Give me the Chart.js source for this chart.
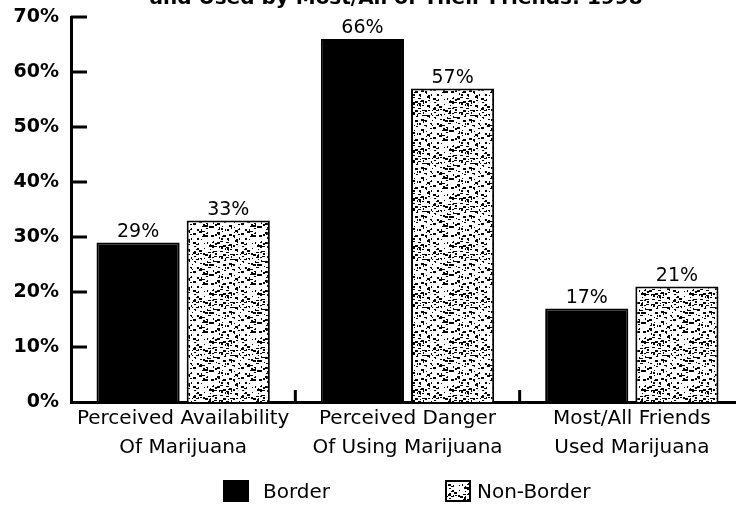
<!DOCTYPE html>
<html lang="en">
<head>
<meta charset="UTF-8">
<title>Marijuana perceptions: Border vs Non-Border</title>
<script src="https://cdn.jsdelivr.net/npm/chart.js"></script>
<style>
    html, body { margin: 0; padding: 0; background: #fff; }
    #wrap { position: relative; width: 736px; height: 507px; overflow: hidden; font-family: "DejaVu Sans", sans-serif; }
    #title { position: absolute; top: -15px; left: 96px; width: 600px; text-align: center; font-weight: bold; font-size: 20px; white-space: nowrap; }
    .item { position: absolute; top: 479px; display: flex; align-items: center; font-size: 20px; line-height: 24px; }
    .box { width: 26px; height: 22px; box-sizing: border-box; border: 2px solid #000; }
</style>
</head>
<body>
<div id="wrap">
    <canvas id="chart" width="744" height="507"></canvas>
    <div id="title">and Used by Most/All of Their Friends: 1998</div>
</div>
<script>
    // data
    const categories = [
        ['Perceived Availability', 'Of Marijuana'],
        ['Perceived Danger', 'Of Using Marijuana'],
        ['Most/All Friends', 'Used Marijuana']
    ];
    const seriesNames = ['Border', 'Non-Border'];
    const borderValues = [29, 66, 17];
    const nonBorderValues = [33, 57, 21];
    const yTickValues = [0, 10, 20, 30, 40, 50, 60, 70];

    // speckled fill for the non-border bars
    function speckle() {
        const c = document.createElement('canvas');
        c.width = 48; c.height = 48;
        const g = c.getContext('2d');
        g.fillStyle = '#fff';
        g.fillRect(0, 0, 48, 48);
        g.fillStyle = '#000';
        let s = 7;
        for (let i = 0; i < 190; i++) {
            s = (s * 73 + 41) % 2304;
            const x = s % 48, y = Math.floor(s / 48);
            g.fillRect(x, y, (i % 3) + 1, (i % 2) + 1);
        }
        return g.createPattern(c, 'repeat');
    }
    const chartCtx = document.getElementById('chart').getContext('2d');
    const fills = ['#000', speckle()];

    // legend
    const wrap = document.getElementById('wrap');
    const legendLeft = [223, 445];
    const legendGap = [14, 6];
    seriesNames.forEach((name, i) => {
        const item = document.createElement('div');
        item.className = 'item';
        item.style.left = legendLeft[i] + 'px';
        const box = document.createElement('div');
        box.className = 'box';
        box.style.background = '#000';
        box.style.marginRight = legendGap[i] + 'px';
        if (i === 1) {
            const bc = document.createElement('canvas');
            bc.width = 22; bc.height = 18;
            const bg = bc.getContext('2d');
            bg.fillStyle = fills[1];
            bg.fillRect(0, 0, 22, 18);
            bc.style.display = 'block';
            box.appendChild(bc);
        }
        const label = document.createElement('span');
        label.textContent = name;
        item.appendChild(box);
        item.appendChild(label);
        wrap.appendChild(item);
    });

    // inward tick marks and category dividers
    const axisMarks = {
        id: 'axisMarks',
        afterDraw(chart) {
            const g = chart.ctx, a = chart.chartArea;
            const y = chart.scales.y, x = chart.scales.x;
            g.save();
            g.strokeStyle = '#000';
            g.lineWidth = 3;
            yTickValues.forEach(v => {
                if (v === 0) return;
                const py = y.getPixelForValue(v);
                g.beginPath(); g.moveTo(a.left, py); g.lineTo(a.left + 16, py); g.stroke();
            });
            for (let i = 1; i < categories.length; i++) {
                const px = (x.getPixelForTick(i - 1) + x.getPixelForTick(i)) / 2;
                g.beginPath(); g.moveTo(px, a.bottom); g.lineTo(px, a.bottom - 12); g.stroke();
            }
            g.restore();
        }
    };

    // value labels on top of bars
    const barLabels = {
        id: 'barLabels',
        afterDatasetsDraw(chart) {
            const g = chart.ctx;
            g.save();
            g.font = '19px "DejaVu Sans", sans-serif';
            g.fillStyle = '#000';
            g.textAlign = 'center';
            g.textBaseline = 'bottom';
            chart.data.datasets.forEach((ds, di) => {
                chart.getDatasetMeta(di).data.forEach((bar, i) => {
                    g.fillText(ds.data[i] + '%', bar.x, bar.y - 1);
                });
            });
            g.restore();
        }
    };

    new Chart(chartCtx, {
        type: 'bar',
        data: {
            labels: categories,
            datasets: [{
                label: seriesNames[0],
                data: borderValues,
                backgroundColor: fills[0],
                borderColor: '#000',
                borderWidth: 2
            }, {
                label: seriesNames[1],
                data: nonBorderValues,
                backgroundColor: fills[1],
                borderColor: '#000',
                borderWidth: 2
            }]
        },
        options: {
            responsive: false,
            animation: false,
            categoryPercentage: 0.804,
            barPercentage: 0.922,
            layout: { padding: { top: 17, right: 0, left: 0, bottom: 0 } },
            plugins: {
                legend: { display: false },
                tooltip: { enabled: false }
            },
            scales: {
                x: {
                    grid: { display: false },
                    border: { color: '#000', width: 3 },
                    ticks: {
                        color: '#000',
                        padding: -6,
                        maxRotation: 0,
                        autoSkip: false,
                        font: { family: '"DejaVu Sans", sans-serif', size: 20, lineHeight: 1.45 }
                    },
                    afterFit(scale) { scale.height = 105; }
                },
                y: {
                    min: 0,
                    max: 70,
                    grid: { display: false },
                    border: { color: '#000', width: 3 },
                    afterBuildTicks(scale) { scale.ticks = yTickValues.map(v => ({ value: v })); },
                    ticks: {
                        color: '#000',
                        padding: 4,
                        callback: v => v + '%',
                        font: { family: '"DejaVu Sans", sans-serif', size: 19, weight: 'bold' }
                    },
                    afterFit(scale) { scale.width = 71; }
                }
            }
        },
        plugins: [axisMarks, barLabels]
    });
</script>
</body>
</html>
